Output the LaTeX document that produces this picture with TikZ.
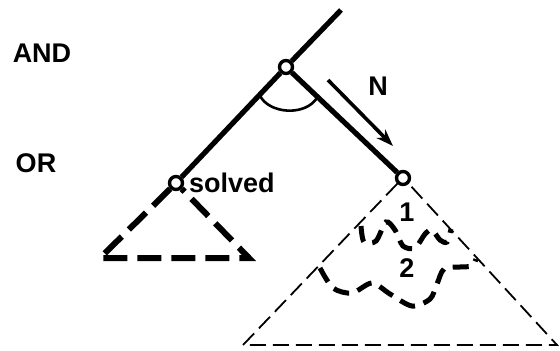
\documentclass[tikz,border=0pt]{standalone}
\usepackage{fontspec}
\setmainfont{Liberation Sans}
\usetikzlibrary{arrows.meta, calc}
\definecolor{cink}{HTML}{000000}
\tikzset{
  every picture/.style={font=\fontsize{27}{32}\selectfont\bfseries},
  vertex/.style={circle, draw=cink, fill=white, line width=3.4pt, minimum size=13pt, inner sep=0pt},
  arc/.style={draw=cink, line width=5.2pt},
  subtree/.style={draw=cink, line width=6pt, dash pattern=on 24pt off 10pt},
  search/.style={draw=cink, line width=1.8pt, dash pattern=on 16pt off 7pt},
  frontier/.style={draw=cink, line width=5pt, dash pattern=on 16pt off 9pt},
  label/.style={text=cink, inner sep=0pt},
}

\begin{document}
\begin{tikzpicture}[x=1pt, y=-1pt]
  \useasboundingbox (0,0) rectangle (560,351);
  % tree: AND node above, OR nodes below
  \coordinate (top) at (341,10);
  \node[vertex] (andnode) at (286,67) {};
  \node[vertex] (solvednode) at (176,183) {};
  \node[vertex] (opennode) at (403,178) {};
  \draw[arc] (top) -- (andnode);
  \draw[arc] (andnode) -- (solvednode);
  \draw[arc] (andnode) -- (opennode);
  % AND arc between the two branches
  \draw[cink, line width=2.6pt] ($(andnode)!0.24!(solvednode)$) .. controls (268,114) and (306,117) .. ($(andnode)!0.27!(opennode)$);
  % solved subtree
  \coordinate (sl) at (100,258);
  \coordinate (sr) at (249,258);
  \draw[subtree] (solvednode.south west) -- (sl) -- (sr) -- (solvednode.south east);
  % subtree still to search
  \coordinate (bl) at (243,345);
  \coordinate (br) at (557,345);
  \draw[search] (opennode.south west) -- (bl) -- (br) -- (opennode.south east);
  \draw[frontier] plot[smooth] coordinates {(361,226) (364,242) (376,241) (386,222) (395,230) (403,246) (415,248) (425,234) (432,230) (440,240) (447,242) (451,229)};
  \draw[frontier] plot[smooth] coordinates {(320,268) (333,288) (352,293) (372,283) (390,294) (412,306) (430,299) (437,284) (444,269) (460,267) (472,266) (476,259)};
  % direction of the search
  \coordinate (nfrom) at (328,80);
  \coordinate (nto) at (393,146);
  \draw[-{Stealth[length=17pt, width=12pt, inset=5pt]}, cink, line width=3.6pt] (nfrom) -- (nto);
  \node[label] (nlabel) at (378,86) {N};
  \node[label] (andlabel) at (42,53) {AND};
  \node[label] (orlabel) at (36,163) {OR};
  \node[label, anchor=west] (solvedlabel) at (189,183) {solved};
  \node[label] (onelabel) at (407,212) {1};
  \node[label] (twolabel) at (407,268) {2};
\end{tikzpicture}
\end{document}
